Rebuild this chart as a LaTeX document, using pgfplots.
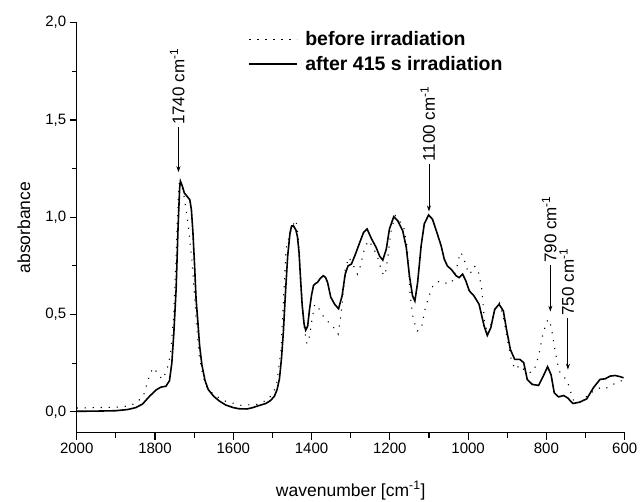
\documentclass[border=0pt]{standalone}
\usepackage{pgfplots}
\pgfplotsset{compat=1.18}
\usepackage{pgfplotstable}
\usepackage{fontspec}
\setmainfont{Liberation Sans}
\usetikzlibrary{arrows.meta}

\pgfplotstableread{
w A
2000 0.003
1950 0.004
1900 0.006
1870 0.012
1849 0.022
1832 0.040
1814 0.080
1797 0.113
1785 0.127
1772 0.132
1763 0.160
1757 0.250
1752 0.400
1746 0.630
1741 0.950
1737 1.150
1735 1.185
1730 1.160
1725 1.125
1717 1.105
1711 1.090
1707 1.040
1703 0.920
1699 0.760
1695 0.580
1690 0.450
1686 0.340
1680 0.240
1672 0.160
1664 0.115
1650 0.080
1635 0.055
1619 0.035
1600 0.022
1585 0.016
1565 0.015
1550 0.022
1535 0.032
1517 0.043
1505 0.058
1495 0.080
1488 0.115
1482 0.170
1477 0.270
1472 0.410
1467 0.600
1461 0.800
1455 0.920
1451 0.955
1446 0.955
1440 0.935
1436 0.900
1432 0.820
1428 0.680
1424 0.550
1419 0.450
1415 0.420
1410 0.440
1405 0.530
1400 0.600
1395 0.650
1390 0.660
1385 0.665
1378 0.685
1370 0.700
1364 0.690
1359 0.665
1351 0.590
1341 0.553
1331 0.530
1322 0.596
1314 0.708
1307 0.750
1298 0.760
1288 0.810
1277 0.870
1267 0.923
1258 0.940
1247 0.890
1235 0.845
1226 0.800
1218 0.780
1209 0.837
1201 0.940
1190 1.003
1180 0.983
1167 0.930
1158 0.845
1150 0.700
1142 0.596
1136 0.570
1129 0.665
1120 0.854
1112 0.966
1101 1.012
1091 0.990
1080 0.923
1069 0.854
1061 0.785
1053 0.750
1042 0.730
1031 0.700
1023 0.690
1014 0.708
1006 0.674
997 0.622
985 0.596
972 0.553
959 0.440
951 0.393
942 0.433
932 0.527
921 0.553
910 0.519
902 0.424
892 0.320
881 0.270
868 0.270
858 0.253
849 0.167
836 0.141
820 0.136
808 0.184
797 0.232
788 0.190
780 0.098
769 0.077
756 0.084
746 0.072
732 0.043
715 0.050
697 0.067
680 0.124
663 0.167
650 0.170
637 0.184
624 0.187
610 0.180
603 0.175
}\after

\pgfplotstableread{
w A
2000 0.020
1950 0.022
1900 0.024
1870 0.030
1850 0.043
1830 0.080
1815 0.180
1805 0.227
1793 0.200
1782 0.167
1770 0.210
1760 0.300
1752 0.500
1746 0.800
1741 1.080
1737 1.200
1731 1.160
1725 1.100
1715 0.957
1706 0.785
1700 0.630
1693 0.425
1687 0.287
1677 0.180
1665 0.115
1640 0.077
1620 0.055
1580 0.034
1540 0.038
1510 0.064
1490 0.130
1478 0.320
1465 0.840
1455 0.920
1445 0.970
1440 0.986
1434 0.900
1428 0.700
1420 0.450
1412 0.350
1405 0.390
1400 0.460
1392 0.553
1385 0.545
1376 0.510
1365 0.476
1350 0.450
1340 0.424
1332 0.400
1322 0.545
1314 0.734
1305 0.794
1295 0.760
1283 0.708
1275 0.750
1265 0.837
1255 0.880
1245 0.854
1232 0.800
1220 0.716
1212 0.700
1205 0.800
1196 0.940
1186 1.008
1176 0.980
1165 0.957
1155 0.837
1148 0.596
1140 0.476
1130 0.416
1120 0.424
1110 0.527
1100 0.596
1090 0.648
1080 0.665
1070 0.674
1060 0.665
1050 0.656
1040 0.674
1030 0.734
1020 0.820
1012 0.800
1005 0.742
995 0.708
985 0.750
975 0.734
965 0.630
958 0.460
950 0.400
940 0.460
930 0.536
920 0.560
910 0.490
900 0.373
890 0.270
880 0.218
868 0.240
858 0.218
845 0.200
832 0.210
820 0.287
810 0.390
800 0.460
795 0.476
788 0.440
780 0.340
772 0.253
765 0.200
757 0.180
748 0.167
740 0.115
730 0.055
715 0.050
700 0.072
690 0.098
675 0.107
660 0.129
645 0.124
630 0.141
610 0.158
603 0.167
}\before

\begin{document}
\begin{tikzpicture}
\useasboundingbox (-76.7pt,-68.3pt) rectangle (565.3pt,432.7pt);
\begin{axis}[
  scale only axis,
  width=548pt, height=410pt,
  x dir=reverse,
  xmin=600, xmax=2000,
  ymin=-0.107, ymax=2.0,
  axis x line*=bottom,
  axis y line*=left,
  axis line style={line width=1.2pt},
  xtick={600,800,...,2000},
  ytick={0,0.5,1,1.5,2},
  minor x tick num=1,
  minor y tick num=1,
  tick align=outside,
  major tick length=7pt,
  minor tick length=5pt,
  every tick/.style={line width=1.1pt, black},
  /pgf/number format/assume math mode=true,
  xticklabel style={font=\fontsize{15}{18}\selectfont, /pgf/number format/1000 sep={}},
  yticklabel style={font=\fontsize{15}{18}\selectfont, /pgf/number format/.cd, use comma, fixed, fixed zerofill, precision=1},
  xlabel={wavenumber [cm\textsuperscript{-1}]},
  ylabel={absorbance},
  label style={font=\fontsize{17.5}{20}\selectfont},
  xlabel style={at={(axis description cs:0.5,-0.1544)}, anchor=base},
  ylabel style={at={(axis description cs:-0.0852,0.5)}, anchor=base},
  legend style={at={(axis description cs:0.308,0.988)}, anchor=north west, draw=none, fill=none,
    font=\bfseries\fontsize{19.5}{23}\selectfont, row sep=5pt,
    /tikz/every odd column/.append style={column sep=5pt}},
  legend cell align=left,
  legend image code/.code={\draw[#1] (0pt,0pt) -- (48pt,0pt);},
]
\addplot[black, line width=1.1pt, dash pattern=on 1.1pt off 6.9pt] table[x=w,y=A] {\before};
\addlegendentry{before irradiation}
\addplot[black, line width=1.6pt] table[x=w,y=A] {\after};
\addlegendentry{after 415 s irradiation}

\begin{scope}[font=\fontsize{17}{20}\selectfont]
\draw[line width=0.9pt, -{Stealth[length=6pt,width=4pt]}] (axis cs:1740,1.463) -- (axis cs:1740,1.232);
\node[rotate=90, anchor=base west, inner sep=2pt, yshift=-6pt] at (axis cs:1740,1.463) {1740 cm\textsuperscript{-1}};
\draw[line width=0.9pt, -{Stealth[length=6pt,width=4pt]}] (axis cs:1100,1.275) -- (axis cs:1100,1.03);
\node[rotate=90, anchor=base west, inner sep=2pt, yshift=-6pt] at (axis cs:1100,1.275) {1100 cm\textsuperscript{-1}};
\draw[line width=0.9pt, -{Stealth[length=6pt,width=4pt]}] (axis cs:790,0.755) -- (axis cs:790,0.515);
\node[rotate=90, anchor=base west, inner sep=2pt, yshift=-6pt] at (axis cs:790,0.755) {790 cm\textsuperscript{-1}};
\draw[line width=0.9pt, -{Stealth[length=6pt,width=4pt]}] (axis cs:745,0.484) -- (axis cs:745,0.217);
\node[rotate=90, anchor=base west, inner sep=2pt, yshift=-6pt] at (axis cs:745,0.484) {750 cm\textsuperscript{-1}};
\end{scope}
\end{axis}
\end{tikzpicture}
\end{document}
